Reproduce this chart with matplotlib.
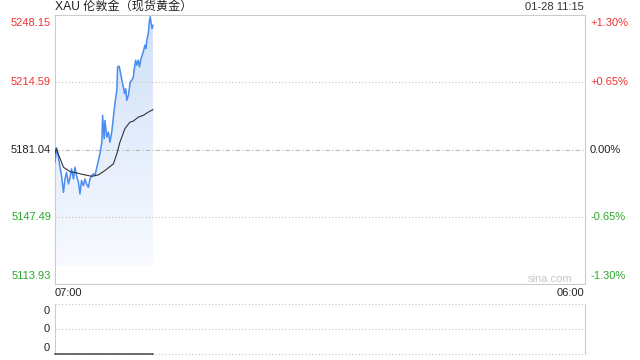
import numpy as np
import matplotlib
matplotlib.use('Agg')
import matplotlib.pyplot as plt
from matplotlib.colors import LinearSegmentedColormap
from matplotlib.transforms import blended_transform_factory

plt.rcParams['font.family'] = ['Liberation Sans', 'Noto Sans CJK SC', 'DejaVu Sans']

title = 'XAU 伦敦金（现货黄金）'
stamp = '01-28 11:15'
prev_close = 5181.04
price_ticks = [5248.15, 5214.59, 5181.04, 5147.49, 5113.93]
time_labels = ['07:00', '06:00']
session_len = 1380  # minutes, 07:00 -> 06:00 next day

# minutes after 07:00
t_price = [0, 4, 9, 13, 17, 22, 26, 30, 35, 39, 43, 48, 52, 56, 61, 65, 69, 74,
           78, 82, 87, 91, 96, 100, 104, 109, 113, 117, 122, 124, 128, 130, 135,
           139, 143, 148, 152, 156, 161, 163, 167, 171, 175, 178, 181, 184, 187,
           191, 193, 196, 200, 204, 206, 210, 213, 217, 220, 224, 227, 231, 234,
           237, 239, 243, 245, 248, 251, 253, 255]
price = [5174.68, 5181.89, 5177.18, 5172.18, 5168.02, 5159.66, 5166.37, 5169.67,
         5163.86, 5167.17, 5171.38, 5166.37, 5172.18, 5168.02, 5164.67, 5158.86,
         5165.52, 5163.01, 5166.37, 5163.86, 5162.16, 5166.37, 5168.02, 5168.87,
         5168.02, 5172.18, 5175.53, 5178.89, 5184.70, 5198.07, 5186.40, 5195.50,
         5187.20, 5189.70, 5184.70, 5190.05, 5197.21, 5203.92, 5210.58, 5222.25,
         5222.60, 5218.95, 5214.74, 5212.24, 5208.93, 5211.43, 5205.60, 5208.10,
         5210.60, 5214.70, 5215.60, 5217.20, 5220.60, 5225.60, 5223.10, 5225.60,
         5222.25, 5226.46, 5228.11, 5230.61, 5233.12, 5231.46, 5235.62, 5238.98,
         5243.98, 5247.29, 5243.13, 5241.48, 5243.00]

t_avg = [0, 3, 22, 39, 56, 74, 96, 113, 130, 152, 161, 169, 182, 195, 204, 217,
         230, 243, 255]
avg_price = [5179.04, 5181.54, 5172.18, 5170.03, 5169.37, 5168.52, 5167.67,
             5168.37, 5170.53, 5173.88, 5178.89, 5184.70, 5191.41, 5194.71,
             5195.21, 5197.21, 5198.07, 5199.72, 5200.92]

t_vol = [0, 255]
volume = [0, 0]
vol_labels = ['0', '0', '0']

red = '#f03232'
green = '#2aa82a'
grey = '#cccccc'

fig = plt.figure(figsize=(6.4, 3.6), dpi=100)
W, H = 640, 360

# main price panel
ax = fig.add_axes([55 / W, 1 - 284 / H, 530 / W, 269 / H])

# gradient fill under the line
fill_base = 5123.0
poly = ax.fill_between(t_price, price, fill_base, color='none', lw=0)
cmap = LinearSegmentedColormap.from_list('g', ['#cfe0f8', '#f8faff'])
grad = np.linspace(0, 1, 256).reshape(-1, 1)
im = ax.imshow(grad, cmap=cmap, aspect='auto', origin='upper',
               extent=[0, t_price[-1], fill_base, price_ticks[0]], zorder=1)
im.set_clip_path(poly.get_paths()[0], transform=ax.transData)
ax.set_xlim(0, session_len)
ax.set_ylim(price_ticks[-1], price_ticks[0])

for p in price_ticks[1:-1]:
    if p == prev_close:
        ax.axhline(p, color='#bbbbbb', lw=0.8, ls=(0, (4, 2, 1, 2)), zorder=2)
    else:
        ax.axhline(p, color='#c4c4c4', lw=0.8, ls=(0, (1, 2)), zorder=2)

ax.plot(t_price, price, color='#4b8cf0', lw=1.1, zorder=3)
ax.plot(t_avg, avg_price, color='#333333', lw=0.8, zorder=4)

ax.set_xticks([])
ax.set_yticks([])
for s in ax.spines.values():
    s.set_color(grey)
    s.set_linewidth(0.8)

tr = blended_transform_factory(ax.transAxes, ax.transData)
n = len(price_ticks)
for i, p in enumerate(price_ticks):
    pct = (p / prev_close - 1) * 100
    if pct > 0.001:
        c, pl = red, '+%.2f%%' % pct
    elif pct < -0.001:
        c, pl = green, '%.2f%%' % pct
    else:
        c, pl = '#222222', '0.00%'
    va = 'top' if i == 0 else ('bottom' if i == n - 1 else 'center')
    off = -1.5 if i == 0 else (1.5 if i == n - 1 else 0)
    ax.text(-4 / 530, p + off, '%.2f' % p, transform=tr, ha='right', va=va,
            fontsize=8, color=c)
    ax.text(1 + 5 / 530, p + off, pl, transform=tr, ha='left', va=va,
            fontsize=8, color=c)

ax.text(0.977, 0.02, 'sina.com', transform=ax.transAxes, ha='right',
        va='center', fontsize=8, color='#c8c8c8')

fig.text(55 / W, 1 - 7 / H, title, ha='left', va='center', fontsize=8.7,
         color='#222222')
fig.text(584 / W, 1 - 7.5 / H, stamp, ha='right', va='center', fontsize=8,
         color='#333333')
fig.text(55 / W, 1 - 293 / H, time_labels[0], ha='left', va='center',
         fontsize=8, color='#222222')
fig.text(584 / W, 1 - 293 / H, time_labels[1], ha='right', va='center',
         fontsize=8, color='#222222')

# volume panel
vx = fig.add_axes([55 / W, 1 - 354 / H, 530 / W, 50 / H])
vx.set_xlim(0, session_len)
vx.set_ylim(0, 1)
vx.set_xticks([])
vx.set_yticks([])
vx.spines['top'].set_visible(False)
vx.spines['bottom'].set_visible(False)
vx.spines['left'].set_color(grey)
vx.spines['right'].set_color(grey)
for y in [1, 0.5, 0]:
    vx.axhline(y, color='#c4c4c4', lw=0.8, ls=(0, (1, 2)), clip_on=False)
vx.plot(t_vol, volume, color='#555555', lw=1.2, clip_on=False, zorder=3)
for y, lab, va, off in zip([1, 0.5, 0], vol_labels, ['top', 'center', 'bottom'],
                           [-0.03, 0, 0.02]):
    vx.text(-5 / 530, y + off, lab, transform=vx.transAxes, ha='right', va=va,
            fontsize=8, color='#222222')

fig.savefig('out.png', dpi=100)
